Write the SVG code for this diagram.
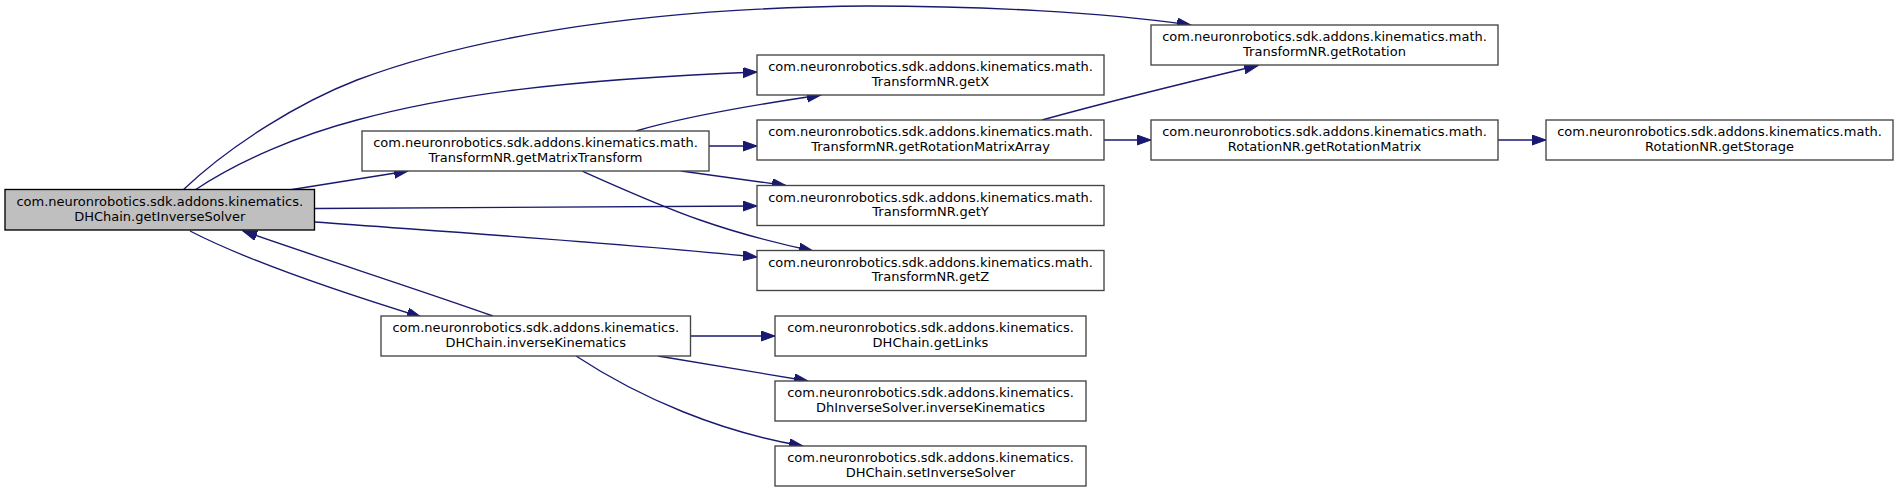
<svg xmlns="http://www.w3.org/2000/svg" width="1899" height="493" viewBox="0 0 1899 493">
<style>
.n rect{fill:#ffffff;stroke:#444444;stroke-width:1.35}
.root rect{fill:#bfbfbf;stroke:#000000}
.n text{font-family:"DejaVu Sans",sans-serif;font-size:13px;fill:#000000;text-anchor:middle}
.e path{fill:none;stroke:#191970;stroke-width:1.35}
</style>
<defs>
<marker id="ah" markerUnits="userSpaceOnUse" markerWidth="16" markerHeight="12" refX="14" refY="5" orient="auto">
<path d="M0,0 L14,5 L0,10 z" fill="#191970" stroke="#191970" stroke-width="1"/>
</marker>
</defs>
<rect x="0" y="0" width="1899" height="493" fill="#ffffff"/>
<g id="connectors" class="e">
<path marker-end="url(#ah)" d="M183,190 C230,145 300,102 357,80 C455,43 620,8 868,6 C980,6 1100,12 1191,25"/>
<path marker-end="url(#ah)" d="M195,190 C240,160 300,135 357,120 C450,95 560,80 757,72"/>
<path marker-end="url(#ah)" d="M289,190 L408,171"/>
<path marker-end="url(#ah)" d="M315,208.5 L757,206"/>
<path marker-end="url(#ah)" d="M315,222 C450,232 620,243 757,257"/>
<path marker-end="url(#ah)" d="M190,231 C250,262 340,292 421,317"/>
<path marker-end="url(#ah)" d="M493,316 C420,290 320,258 243,231"/>
<path marker-end="url(#ah)" d="M636,131 C680,118 760,104 821,95"/>
<path marker-end="url(#ah)" d="M709,146 L757,146"/>
<path marker-end="url(#ah)" d="M681,171 L786,185.5"/>
<path marker-end="url(#ah)" d="M582,171 C620,188 660,206 700,220 C740,234 780,244 813,251"/>
<path marker-end="url(#ah)" d="M1042,120 C1100,104 1180,84 1258,65.5"/>
<path marker-end="url(#ah)" d="M1104,140 L1151,140"/>
<path marker-end="url(#ah)" d="M1498,140 L1546,140"/>
<path marker-end="url(#ah)" d="M690,336 L775,336"/>
<path marker-end="url(#ah)" d="M658,356 L808,381"/>
<path marker-end="url(#ah)" d="M576,356 C640,398 720,432 803,446"/>
</g>
<g id="getInverseSolver" class="n root">
<rect x="5" y="189.5" width="309.5" height="40.5"/>
<text x="159.75" y="206">com.neuronrobotics.sdk.addons.kinematics.</text>
<text x="159.75" y="220.5">DHChain.getInverseSolver</text>
</g>
<g id="getMatrixTransform" class="n">
<rect x="362" y="131" width="347" height="40"/>
<text x="535.5" y="147">com.neuronrobotics.sdk.addons.kinematics.math.</text>
<text x="535.5" y="161.5">TransformNR.getMatrixTransform</text>
</g>
<g id="getX" class="n">
<rect x="757" y="55" width="347" height="40"/>
<text x="930.5" y="71">com.neuronrobotics.sdk.addons.kinematics.math.</text>
<text x="930.5" y="85.5">TransformNR.getX</text>
</g>
<g id="getRotationMatrixArray" class="n">
<rect x="757" y="120" width="347" height="40"/>
<text x="930.5" y="136">com.neuronrobotics.sdk.addons.kinematics.math.</text>
<text x="930.5" y="150.5">TransformNR.getRotationMatrixArray</text>
</g>
<g id="getY" class="n">
<rect x="757" y="185.5" width="347" height="40"/>
<text x="930.5" y="201.5">com.neuronrobotics.sdk.addons.kinematics.math.</text>
<text x="930.5" y="216">TransformNR.getY</text>
</g>
<g id="getZ" class="n">
<rect x="757" y="250.5" width="347" height="40"/>
<text x="930.5" y="266.5">com.neuronrobotics.sdk.addons.kinematics.math.</text>
<text x="930.5" y="281">TransformNR.getZ</text>
</g>
<g id="getRotation" class="n">
<rect x="1151" y="25" width="347" height="40"/>
<text x="1324.5" y="41">com.neuronrobotics.sdk.addons.kinematics.math.</text>
<text x="1324.5" y="55.5">TransformNR.getRotation</text>
</g>
<g id="getRotationMatrix" class="n">
<rect x="1151" y="120" width="347" height="40"/>
<text x="1324.5" y="136">com.neuronrobotics.sdk.addons.kinematics.math.</text>
<text x="1324.5" y="150.5">RotationNR.getRotationMatrix</text>
</g>
<g id="getStorage" class="n">
<rect x="1546" y="120" width="347" height="40"/>
<text x="1719.5" y="136">com.neuronrobotics.sdk.addons.kinematics.math.</text>
<text x="1719.5" y="150.5">RotationNR.getStorage</text>
</g>
<g id="inverseKinematics" class="n">
<rect x="381" y="316" width="309.5" height="40"/>
<text x="535.75" y="332">com.neuronrobotics.sdk.addons.kinematics.</text>
<text x="535.75" y="346.5">DHChain.inverseKinematics</text>
</g>
<g id="getLinks" class="n">
<rect x="775" y="316" width="311" height="40"/>
<text x="930.5" y="332">com.neuronrobotics.sdk.addons.kinematics.</text>
<text x="930.5" y="346.5">DHChain.getLinks</text>
</g>
<g id="DhInverseSolver_inverseKinematics" class="n">
<rect x="775" y="381" width="311" height="40"/>
<text x="930.5" y="397">com.neuronrobotics.sdk.addons.kinematics.</text>
<text x="930.5" y="411.5">DhInverseSolver.inverseKinematics</text>
</g>
<g id="setInverseSolver" class="n">
<rect x="775" y="446" width="311" height="40"/>
<text x="930.5" y="462">com.neuronrobotics.sdk.addons.kinematics.</text>
<text x="930.5" y="476.5">DHChain.setInverseSolver</text>
</g>
</svg>
